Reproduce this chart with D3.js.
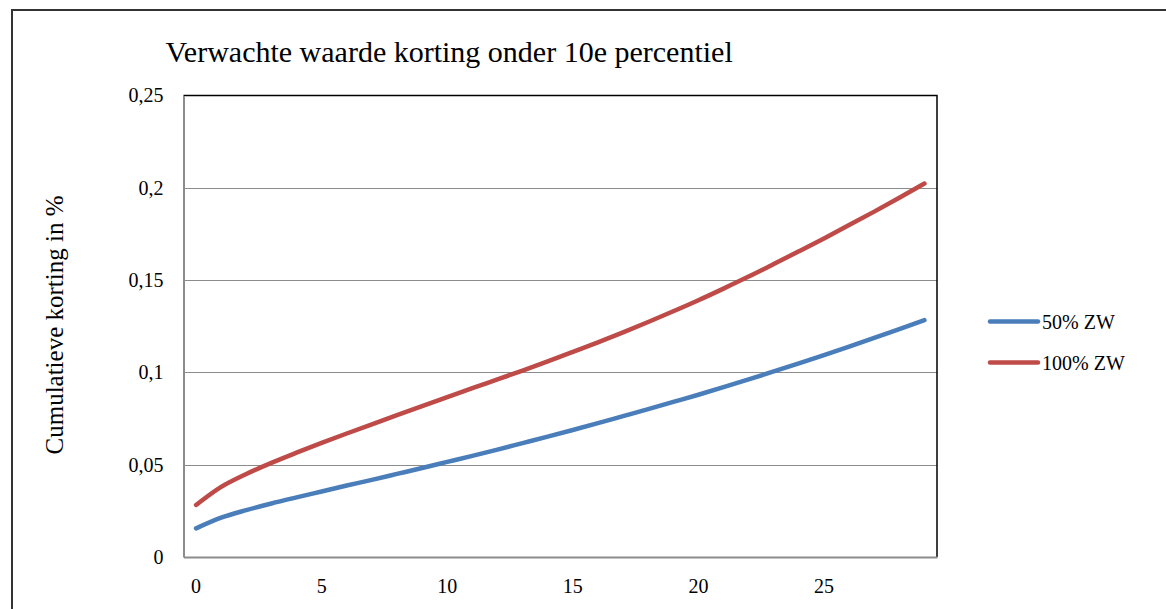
<!DOCTYPE html>
<html>
<head>
<meta charset="utf-8">
<script src="https://cdn.jsdelivr.net/npm/d3@7/dist/d3.min.js"></script>
<style>
  html, body { margin: 0; padding: 0; background: #fff; }
  svg { display: block; }
  text { font-family: "Liberation Serif", "DejaVu Serif", serif; fill: #000; }
</style>
</head>
<body>
<svg id="chart" width="1166" height="609"></svg>
<script>
// Jaren (categorie-as)
const years = d3.range(0, 30);
const xTickLabels = [0, 5, 10, 15, 20, 25];
const yTickValues = [0, 0.05, 0.1, 0.15, 0.2, 0.25];

// Cumulatieve korting per jaar
const zw50 = [0.0155, 0.0213, 0.0254, 0.0290, 0.0323, 0.0355, 0.0387, 0.0418, 0.0450, 0.0482,
              0.0515, 0.0548, 0.0582, 0.0617, 0.0652, 0.0688, 0.0725, 0.0763, 0.0801, 0.0840,
              0.0879, 0.0920, 0.0962, 0.1005, 0.1049, 0.1094, 0.1140, 0.1187, 0.1235, 0.1283];
const zw100 = [0.0282, 0.0380, 0.0450, 0.0510, 0.0565, 0.0618, 0.0669, 0.0719, 0.0768, 0.0817,
               0.0866, 0.0915, 0.0962, 0.1010, 0.1060, 0.1111, 0.1163, 0.1217, 0.1273, 0.1331,
               0.1391, 0.1454, 0.1519, 0.1587, 0.1656, 0.1726, 0.1798, 0.1871, 0.1946, 0.2023];

const seriesNames = ["50% ZW", "100% ZW"];
const seriesColors = ["#4a7ebb", "#be4b48"];
const seriesData = [zw50, zw100];

const svg = d3.select("#chart");

// Buitenrand van de grafiek
svg.append("path")
  .attr("d", "M12,609 L12,10 L1166,10")
  .attr("fill", "none")
  .attr("stroke", "#333")
  .attr("stroke-width", 2);

const plot = { left: 183.5, right: 937, top: 95.5, bottom: 557 };

const x = d3.scaleBand().domain(years).range([plot.left, plot.right]).padding(0);
const cx = d => x(d) + x.bandwidth() / 2;
const y = d3.scaleLinear().domain([0, 0.25]).range([plot.bottom, plot.top]);

// Rasterlijnen
svg.append("g")
  .selectAll("line")
  .data(yTickValues.filter(v => v > 0 && v < 0.25))
  .join("line")
  .attr("x1", plot.left).attr("x2", plot.right)
  .attr("y1", d => Math.round(y(d)) + 0.5).attr("y2", d => Math.round(y(d)) + 0.5)
  .attr("stroke", "#8c8c8c").attr("stroke-width", 1);

// Kader van het tekengebied (boven en rechts)
svg.append("path")
  .attr("d", `M${plot.left},${plot.top} L${plot.right},${plot.top} L${plot.right},${plot.bottom}`)
  .attr("fill", "none").attr("stroke", "#000").attr("stroke-width", 1.5);

// Y-as
const yAxis = d3.axisLeft(y)
  .tickValues(yTickValues)
  .tickSize(0)
  .tickPadding(20)
  .tickFormat(d => d3.format("")(d).replace(".", ","));
const gy = svg.append("g").attr("transform", `translate(${plot.left},0)`).call(yAxis);
gy.select(".domain").attr("stroke", "#8c8c8c").attr("stroke-width", 2);
gy.selectAll("text").style("font-size", "20px").attr("fill", "#000");

// X-as
const xAxis = d3.axisBottom(x)
  .tickValues(xTickLabels)
  .tickSize(0)
  .tickPadding(22);
const gx = svg.append("g").attr("transform", `translate(0,${plot.bottom})`).call(xAxis);
gx.select(".domain").attr("stroke", "#8c8c8c").attr("stroke-width", 2);
gx.selectAll("text").style("font-size", "20px").attr("fill", "#000");

// Lijnen
const line = d3.line()
  .x((d, i) => cx(years[i]))
  .y(d => y(d))
  .curve(d3.curveMonotoneX);

svg.append("g")
  .selectAll("path")
  .data(seriesData)
  .join("path")
  .attr("d", d => line(d))
  .attr("fill", "none")
  .attr("stroke", (d, i) => seriesColors[i])
  .attr("stroke-width", 4.5)
  .attr("stroke-linecap", "round")
  .attr("stroke-linejoin", "round");

// Titel
svg.append("text")
  .attr("x", 165.5).attr("y", 62)
  .style("font-size", "30px")
  .text("Verwachte waarde korting onder 10e percentiel");

// Titel y-as
svg.append("text")
  .attr("transform", "translate(63,325) rotate(-90)")
  .attr("text-anchor", "middle")
  .style("font-size", "25px")
  .text("Cumulatieve korting in %");

// Legenda
const legend = svg.append("g")
  .selectAll("g")
  .data(seriesNames)
  .join("g")
  .attr("transform", (d, i) => `translate(990,${321.5 + i * 41})`);
legend.append("line")
  .attr("x1", 0).attr("x2", 48)
  .attr("stroke", (d, i) => seriesColors[i])
  .attr("stroke-width", 4.5)
  .attr("stroke-linecap", "round");
legend.append("text")
  .attr("x", 52).attr("dy", "0.35em")
  .style("font-size", "20px")
  .text(d => d);
</script>
</body>
</html>
